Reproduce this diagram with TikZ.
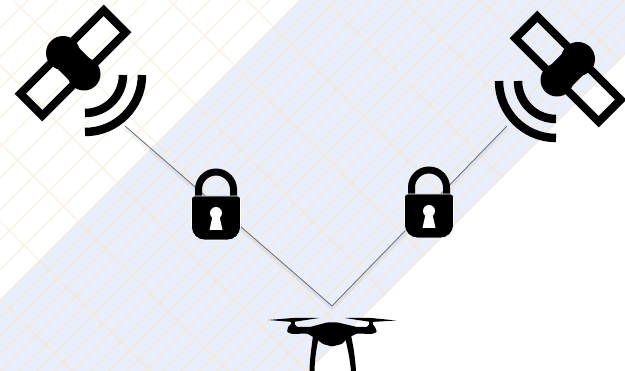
\documentclass[tikz,border=0pt]{standalone}
\usepackage{xcolor}
\usepackage{tikz}
\usetikzlibrary{positioning}
\definecolor{BandBlue}{RGB}{233,238,252}
\definecolor{GridCream}{RGB}{246,233,212}
\definecolor{GridLight}{RGB}{252,241,224}
\definecolor{LinkGray}{RGB}{120,120,120}
\tikzset{
  gridline/.style={draw=GridCream, line width=1.4pt},
  gridpale/.style={draw=GridLight, line width=1.1pt},
  linkline/.style={draw=LinkGray, line width=0.9pt},
  linkshade/.style={draw=black, opacity=0.05, line width=4pt},
  satellite/.pic={
    \draw[line width=8pt] (30.7,-52.7) -- (52.7,-30.7) -- (-30.7,52.7) -- (-52.7,30.7) -- cycle;
    \draw[line width=30pt] (-10,-10) -- (11,11);
    \fill (-10,-10) circle[radius=17];
    \fill (11,11) circle[radius=16.5];
    \draw[line width=8.5pt] (50,12) arc[start angle=0, end angle=90, radius=38];
    \draw[line width=8.5pt] (69,12) arc[start angle=0, end angle=90, radius=57];
  },
  padlock/.pic={
    \draw[line width=7pt] (-17.5,-7) -- (-17.5,-15.5) arc[start angle=180, end angle=360, radius=17.5] -- (17.5,-7);
    \fill[black, draw=white, line width=0.6pt, rounded corners=3pt] (0,-9) -- (24.5,-9) [rounded corners=13pt] -- (24.5,35) -- (-24.5,35) [rounded corners=3pt] -- (-24.5,-9) -- cycle;
    \fill[white] (0,8) circle[radius=6];
    \fill[white] (-3.2,10) -- (-6.5,25) -- (6.5,25) -- (3.2,10) -- cycle;
  },
  dronebody/.pic={
    \fill[rounded corners=1pt] (-44,-18) -- (-39,-23) -- (-35,-18) -- (-22,-18) -- (-5,-22.5) -- (6,-22.5) -- (25,-18) -- (35,-18) -- (39,-23) -- (43,-18) -- (45,-13) -- (40,-11) -- (25,-11.5) -- (16,-7) -- (10,-1) -- (0,1.5) -- (-9,-1) -- (-17,-7) -- (-25,-11.5) -- (-40,-11) -- (-45,-13) -- cycle;
    \fill (-64,-25) -- (-39,-27) -- (-13,-27) -- (-39,-23) -- cycle;
    \fill (13,-27) -- (39,-27) -- (64,-24.5) -- (39,-23) -- cycle;
    \fill (-41,-25) rectangle (-37,-20);
    \fill (37,-25) rectangle (41,-20);
    \fill (-19,-10) .. controls (-20,0) and (-22,10) .. (-22.5,26) -- (-17.5,26) .. controls (-17,10) and (-15,0) .. (-13,-8) -- cycle;
    \fill (13,-8) .. controls (16,5) and (18,15) .. (19,26) -- (24,26) .. controls (23,10) and (21,0) .. (19,-10) -- cycle;
  }
}

\begin{document}
\begin{tikzpicture}[x=1pt, y=-1pt]
        \useasboundingbox (0,0) rectangle (625,371);
        \clip (0,0) rectangle (625,371);
        \fill[white] (0,0) rectangle (625,371);
        \fill[BandBlue] (300,0) -- (625,0) -- (625,55) -- (309,371) -- (0,371) -- (0,300) -- cycle;
        \begin{scope}
          \clip (0,0) -- (300,0) -- (0,300) -- cycle;
          \foreach \c in {28,57,88,118,147,178,210,240,270}
            \draw[gridpale] (\c,0) -- (0,\c);
          \foreach \k in {-4,...,3} {
            \pgfmathsetmacro{\d}{13+78*\k}
            \draw[gridpale] (\d,0) -- ({\d+400},400);
          }
        \end{scope}
        \begin{scope}
          \clip (300,0) -- (625,0) -- (625,55) -- (309,371) -- (0,371) -- (0,300) -- cycle;
          \foreach \k in {0,...,21} {
            \pgfmathsetmacro{\c}{300+18*\k}
            \draw[gridline] (\c,0) -- (0,\c);
          }
          \foreach \k in {-5,...,8} {
            \pgfmathsetmacro{\d}{13+78*\k}
            \draw[gridline] (\d,0) -- ({\d+400},400);
          }
        \end{scope}
        \coordinate (leftend) at (125,126);
        \coordinate (rightend) at (507,126);
        \coordinate (apex) at (332,306);
        \coordinate (leftsat) at (73,63);
        \coordinate (rightsat) at (568,69);
        \coordinate (leftlock) at (216,205);
        \coordinate (rightlock) at (429,203);
        \coordinate (drone) at (332,345);
        \draw[linkshade, transform canvas={yshift=-2pt}] (leftend) -- (apex) -- (rightend);
        \draw[linkline] (leftend) -- (apex) -- (rightend);
        \pic at (leftsat) {satellite};
        \pic[xscale=-1] at (rightsat) {satellite};
        \pic at (leftlock) {padlock};
        \pic at (rightlock) {padlock};
        \pic at (drone) {dronebody};
      \end{tikzpicture}
\end{document}
